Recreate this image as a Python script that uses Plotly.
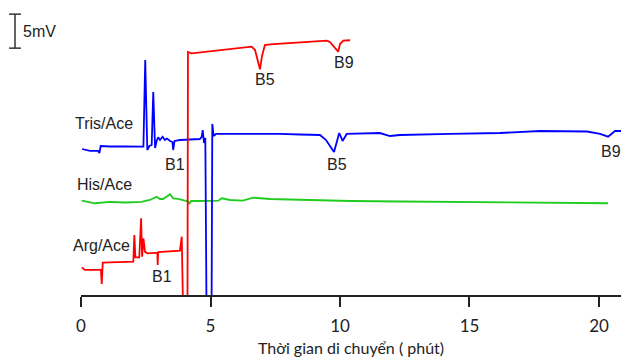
import plotly.graph_objects as go

# ---- data (time in min, signal in mV including vertical stacking offset) ----
tris_t = [0.04, 0.35, 0.66, 0.71, 0.76, 1.12, 1.70, 2.34, 2.41, 2.48, 2.56, 2.64, 2.73, 2.79,
          2.86, 2.92, 2.98, 3.05, 3.15, 3.24, 3.32, 3.44, 3.53, 3.56, 3.61, 3.82, 4.21, 4.59,
          4.66, 4.70, 4.75, 4.80, 4.85, 5.04, 5.07, 5.12, 5.21, 5.75, 6.53, 7.68, 8.46, 9.23,
          9.46, 9.77, 9.97, 10.10, 10.26, 10.77, 11.54, 11.93, 12.32, 14.25, 16.18, 17.72,
          19.54, 20.04, 20.35, 20.62, 20.85]
tris_v = [21.47, 21.18, 21.18, 20.88, 21.91, 21.84, 21.84, 21.81, 21.81, 34.56, 21.32, 21.91,
          22.06, 29.85, 21.62, 22.65, 23.19, 22.79, 23.28, 22.79, 23.01, 22.65, 22.50, 21.32,
          22.65, 22.79, 22.87, 22.94, 23.24, 24.26, 22.35, 23.09, -4.0, -4.0, 25.15, 23.38,
          23.68, 23.68, 23.75, 23.68, 23.60, 23.53, 22.79, 21.03, 23.82, 22.65, 23.68, 23.75,
          23.82, 23.38, 23.53, 23.68, 23.82, 24.12, 24.04, 23.68, 23.28, 24.12, 24.12]

his_t = [0.03, 0.27, 0.54, 1.12, 1.70, 2.34, 2.66, 2.92, 3.05, 3.17, 3.28, 3.44, 3.56, 3.75,
         4.08, 4.14, 4.18, 4.25, 4.59, 5.30, 5.44, 5.75, 6.25, 6.64, 7.30, 8.46, 10.39, 12.32,
         14.25, 16.18, 18.11, 20.35]
his_v = [13.87, 13.68, 13.49, 13.68, 13.60, 13.68, 13.97, 14.46, 14.12, 14.12, 14.41, 14.81,
         14.22, 14.12, 13.82, 13.75, 13.38, 13.82, 13.82, 13.87, 14.22, 13.97, 13.87, 14.31,
         14.12, 13.97, 13.82, 13.75, 13.68, 13.60, 13.53, 13.49]

arg_t = [0.03, 0.15, 0.77, 0.80, 0.84, 1.51, 2.02, 2.06, 2.10, 2.25, 2.32, 2.36, 2.41, 2.47,
         2.56, 2.95, 2.96, 2.98, 3.44, 3.82, 3.89, 3.95, 4.11, 4.13, 4.27, 4.59, 5.37, 6.14,
         6.59, 6.72, 6.83, 6.91, 6.99, 7.10, 7.30, 8.07, 8.84, 9.49, 9.61, 9.77, 9.93, 10.00,
         10.13, 10.39]
arg_v = [4.07, 3.68, 3.68, 1.62, 4.75, 4.81, 4.90, 8.82, 5.54, 5.54, 11.28, 5.63, 8.34, 6.37,
         6.13, 6.22, 4.41, 6.32, 6.40, 6.51, 8.57, -4.0, -4.0, 35.74, 35.54, 35.66, 36.03,
         36.32, 36.51, 36.03, 34.26, 33.19, 35.15, 36.76, 36.84, 37.06, 37.28, 37.40, 37.21,
         36.47, 35.78, 36.91, 37.40, 37.46]

x_ticks = [0, 5, 10, 15, 20]
X_RANGE = [0, 20.85]
Y_RANGE = [0, 43.38]
SCALE_BAR_MV = 5
SCALE_BAR_BASE = 36.3

# label texts and anchor positions (time, mV)
labels = [
    ("Tris/Ace", 0.87, 25.29, "center"),
    ("His/Ace", 0.89, 16.32, "center"),
    ("Arg/Ace", 0.81, 7.21, "center"),
    ("B1", 3.63, 19.26, "center"),
    ("B1", 3.13, 2.79, "center"),
    ("B5", 7.09, 31.76, "center"),
    ("B9", 10.15, 34.26, "center"),
    ("B5", 9.90, 19.26, "center"),
    ("B9", 20.0, 21.03, "left"),
]

fig = go.Figure()
fig.add_trace(go.Scatter(x=his_t, y=his_v, mode="lines",
                         line=dict(color="#1fcc1f", width=1.8), name="His/Ace"))
fig.add_trace(go.Scatter(x=tris_t, y=tris_v, mode="lines",
                         line=dict(color="#0000ff", width=1.8), name="Tris/Ace"))
fig.add_trace(go.Scatter(x=arg_t, y=arg_v, mode="lines",
                         line=dict(color="#ff0000", width=1.8), name="Arg/Ace"))

for txt, x, y, anc in labels:
    fig.add_annotation(x=x, y=y, xref="x", yref="y", text=txt, showarrow=False,
                       xanchor=anc, yanchor="middle",
                       font=dict(family="Liberation Sans", size=16, color="#222"))

# scale bar (5 mV)
y0p = SCALE_BAR_BASE / Y_RANGE[1]
y1p = (SCALE_BAR_BASE + SCALE_BAR_MV) / Y_RANGE[1]
bx, cap = -0.1222, 0.011
line_style = dict(color="#333", width=1.5)
fig.add_shape(type="line", xref="paper", yref="paper", x0=bx, x1=bx, y0=y0p, y1=y1p, line=line_style)
fig.add_shape(type="line", xref="paper", yref="paper", x0=bx - cap, x1=bx + cap, y0=y0p, y1=y0p, line=line_style)
fig.add_shape(type="line", xref="paper", yref="paper", x0=bx - cap, x1=bx + cap, y0=y1p, y1=y1p, line=line_style)
fig.add_annotation(x=bx + 0.012, y=(y0p + y1p) / 2, xref="paper", yref="paper",
                   text=f"{SCALE_BAR_MV}mV", showarrow=False, xanchor="left", yanchor="middle",
                   font=dict(family="Liberation Sans", size=16, color="#222"))

fig.update_layout(
    width=621, height=360,
    margin=dict(l=81, r=0, t=0, b=65),
    paper_bgcolor="white", plot_bgcolor="white",
    showlegend=False,
    xaxis=dict(range=X_RANGE, tickvals=x_ticks, ticktext=[str(v) for v in x_ticks],
               showline=True, linecolor="#222", linewidth=1.5,
               ticks="outside", ticklen=10, tickwidth=1.5, tickcolor="#222",
               ticklabelstandoff=5,
               showgrid=False, zeroline=False,
               tickfont=dict(family="Lato", size=17, color="#222"),
               title=dict(text="Thời gian di chuyển ( phút)", standoff=8,
                          font=dict(family="Lato", size=16, color="#222"))),
    yaxis=dict(range=Y_RANGE, visible=False),
)

fig.write_html("out.html", config={"displayModeBar": False},
               post_script="document.body.style.margin='0';document.body.style.overflow='hidden';")
